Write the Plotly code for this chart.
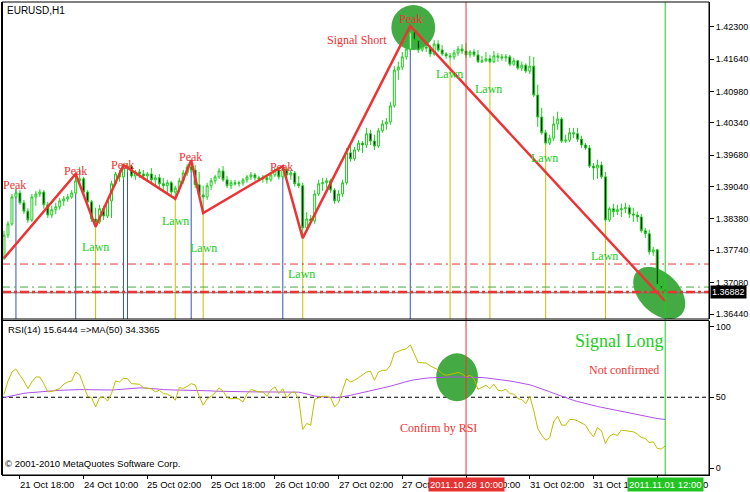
import numpy as np
import plotly.graph_objects as go

# ---------------- data (EURUSD H1, bar index 0 = 21 Oct 14:00) ----------------
bars = list(range(167))
opens = [1.3758, 1.3805, 1.3828, 1.3883, 1.3891, 1.3871, 1.3854, 1.3836, 1.3883, 1.3889,
         1.3893, 1.3867, 1.3846, 1.3857, 1.3863, 1.3875, 1.3879, 1.3883, 1.3891, 1.3916,
         1.3920, 1.3893, 1.3873, 1.3838, 1.3832, 1.3859, 1.3844, 1.3875, 1.3910, 1.3930,
         1.3924, 1.3942, 1.3946, 1.3926, 1.3934, 1.3930, 1.3926, 1.3930, 1.3918, 1.3922,
         1.3910, 1.3906, 1.3912, 1.3893, 1.3901, 1.3916, 1.3932, 1.3944, 1.3938, 1.3908,
         1.3887, 1.3883, 1.3906, 1.3916, 1.3924, 1.3936, 1.3918, 1.3906, 1.3912, 1.3910,
         1.3912, 1.3918, 1.3924, 1.3928, 1.3922, 1.3920, 1.3922, 1.3918, 1.3928, 1.3938,
         1.3924, 1.3940, 1.3928, 1.3932, 1.3910, 1.3906, 1.3820, 1.3838, 1.3834, 1.3889,
         1.3910, 1.3912, 1.3916, 1.3897, 1.3875, 1.3889, 1.3912, 1.3973, 1.3961, 1.3979,
         1.3993, 1.3989, 1.4012, 1.3997, 1.3987, 1.4018, 1.4032, 1.4036, 1.4069, 1.4142,
         1.4148, 1.4169, 1.4185, 1.4220, 1.4203, 1.4183, 1.4189, 1.4187, 1.4175, 1.4195,
         1.4183, 1.4175, 1.4171, 1.4169, 1.4177, 1.4185, 1.4181, 1.4173, 1.4179, 1.4173,
         1.4159, 1.4161, 1.4165, 1.4159, 1.4171, 1.4169, 1.4167, 1.4169, 1.4154, 1.4161,
         1.4146, 1.4152, 1.4140, 1.4150, 1.4091, 1.4046, 1.4014, 1.3993, 1.4003, 1.4032,
         1.4042, 1.3997, 1.3999, 1.4014, 1.4012, 1.4001, 1.3989, 1.3983, 1.3946, 1.3942,
         1.3948, 1.3924, 1.3836, 1.3859, 1.3853, 1.3857, 1.3859, 1.3861, 1.3848, 1.3846,
         1.3842, 1.3814, 1.3808, 1.3771, 1.3775, 1.3702, 1.3695]
highs = [1.3814, 1.3834, 1.3889, 1.3899, 1.3897, 1.3877, 1.3860, 1.3889, 1.3895, 1.3899,
         1.3897, 1.3873, 1.3865, 1.3871, 1.3881, 1.3885, 1.3889, 1.3897, 1.3930, 1.3944,
         1.3924, 1.3897, 1.3877, 1.3861, 1.3867, 1.3865, 1.3881, 1.3916, 1.3934, 1.3938,
         1.3948, 1.3952, 1.3948, 1.3938, 1.3940, 1.3938, 1.3934, 1.3942, 1.3928, 1.3930,
         1.3922, 1.3918, 1.3916, 1.3906, 1.3922, 1.3938, 1.3950, 1.3959, 1.3948, 1.3934,
         1.3906, 1.3912, 1.3922, 1.3928, 1.3942, 1.3946, 1.3926, 1.3918, 1.3918, 1.3916,
         1.3922, 1.3928, 1.3934, 1.3932, 1.3926, 1.3928, 1.3926, 1.3934, 1.3942, 1.3942,
         1.3946, 1.3944, 1.3938, 1.3936, 1.3926, 1.3912, 1.3852, 1.3846, 1.3897, 1.3918,
         1.3922, 1.3922, 1.3920, 1.3901, 1.3897, 1.3918, 1.3983, 1.3989, 1.3985, 1.3999,
         1.3997, 1.4024, 1.4020, 1.4010, 1.4024, 1.4040, 1.4044, 1.4077, 1.4150, 1.4159,
         1.4179, 1.4193, 1.4232, 1.4230, 1.4212, 1.4195, 1.4195, 1.4193, 1.4203, 1.4203,
         1.4193, 1.4179, 1.4177, 1.4183, 1.4191, 1.4195, 1.4197, 1.4183, 1.4185, 1.4183,
         1.4171, 1.4179, 1.4173, 1.4181, 1.4177, 1.4175, 1.4175, 1.4173, 1.4167, 1.4163,
         1.4159, 1.4156, 1.4171, 1.4169, 1.4112, 1.4065, 1.4020, 1.4010, 1.4048, 1.4057,
         1.4046, 1.4010, 1.4024, 1.4024, 1.4024, 1.4008, 1.3993, 1.3989, 1.3952, 1.3959,
         1.3955, 1.3934, 1.3863, 1.3869, 1.3867, 1.3869, 1.3871, 1.3867, 1.3861, 1.3853,
         1.3848, 1.3820, 1.3816, 1.3781, 1.3777, 1.3725, 1.3714]
lows = [1.3754, 1.3799, 1.3824, 1.3879, 1.3867, 1.3848, 1.3830, 1.3832, 1.3865, 1.3883,
        1.3859, 1.3840, 1.3840, 1.3848, 1.3857, 1.3865, 1.3873, 1.3879, 1.3887, 1.3906,
        1.3889, 1.3869, 1.3832, 1.3822, 1.3828, 1.3836, 1.3840, 1.3840, 1.3906, 1.3914,
        1.3918, 1.3934, 1.3922, 1.3918, 1.3922, 1.3918, 1.3914, 1.3910, 1.3906, 1.3901,
        1.3897, 1.3891, 1.3887, 1.3879, 1.3893, 1.3910, 1.3926, 1.3934, 1.3901, 1.3881,
        1.3850, 1.3877, 1.3897, 1.3910, 1.3920, 1.3914, 1.3901, 1.3899, 1.3906, 1.3904,
        1.3906, 1.3912, 1.3918, 1.3916, 1.3914, 1.3912, 1.3910, 1.3914, 1.3924, 1.3918,
        1.3920, 1.3922, 1.3918, 1.3904, 1.3901, 1.3799, 1.3812, 1.3830, 1.3828, 1.3885,
        1.3895, 1.3901, 1.3891, 1.3869, 1.3871, 1.3883, 1.3908, 1.3955, 1.3957, 1.3975,
        1.3973, 1.3983, 1.3989, 1.3979, 1.3983, 1.4014, 1.4020, 1.4030, 1.4065, 1.4122,
        1.4142, 1.4163, 1.4179, 1.4199, 1.4177, 1.4179, 1.4179, 1.4169, 1.4171, 1.4179,
        1.4171, 1.4165, 1.4161, 1.4163, 1.4171, 1.4175, 1.4167, 1.4167, 1.4169, 1.4156,
        1.4156, 1.4158, 1.4156, 1.4156, 1.4159, 1.4161, 1.4159, 1.4150, 1.4150, 1.4142,
        1.4140, 1.4136, 1.4134, 1.4087, 1.4026, 1.4010, 1.3989, 1.3989, 1.3997, 1.4020,
        1.3993, 1.3993, 1.3995, 1.4003, 1.3995, 1.3983, 1.3979, 1.3942, 1.3918, 1.3920,
        1.3920, 1.3832, 1.3832, 1.3842, 1.3846, 1.3842, 1.3850, 1.3840, 1.3832, 1.3832,
        1.3810, 1.3799, 1.3765, 1.3763, 1.3693, 1.3677, 1.3671]
closes = [1.3805, 1.3828, 1.3883, 1.3891, 1.3871, 1.3854, 1.3836, 1.3883, 1.3889, 1.3893,
          1.3867, 1.3846, 1.3857, 1.3863, 1.3875, 1.3879, 1.3883, 1.3891, 1.3916, 1.3920,
          1.3893, 1.3873, 1.3838, 1.3832, 1.3859, 1.3844, 1.3875, 1.3910, 1.3930, 1.3924,
          1.3942, 1.3946, 1.3926, 1.3934, 1.3930, 1.3926, 1.3930, 1.3918, 1.3922, 1.3910,
          1.3906, 1.3912, 1.3893, 1.3901, 1.3916, 1.3932, 1.3944, 1.3938, 1.3908, 1.3887,
          1.3883, 1.3906, 1.3916, 1.3924, 1.3936, 1.3918, 1.3906, 1.3912, 1.3910, 1.3912,
          1.3918, 1.3924, 1.3928, 1.3922, 1.3920, 1.3922, 1.3918, 1.3928, 1.3938, 1.3924,
          1.3940, 1.3928, 1.3932, 1.3910, 1.3906, 1.3820, 1.3838, 1.3834, 1.3889, 1.3910,
          1.3912, 1.3916, 1.3897, 1.3875, 1.3889, 1.3912, 1.3973, 1.3961, 1.3979, 1.3993,
          1.3989, 1.4012, 1.3997, 1.3987, 1.4018, 1.4032, 1.4036, 1.4069, 1.4142, 1.4148,
          1.4169, 1.4185, 1.4220, 1.4203, 1.4183, 1.4189, 1.4187, 1.4175, 1.4195, 1.4183,
          1.4175, 1.4171, 1.4169, 1.4177, 1.4185, 1.4181, 1.4173, 1.4179, 1.4173, 1.4159,
          1.4161, 1.4165, 1.4159, 1.4171, 1.4169, 1.4167, 1.4169, 1.4154, 1.4161, 1.4146,
          1.4152, 1.4140, 1.4150, 1.4091, 1.4046, 1.4014, 1.3993, 1.4003, 1.4032, 1.4042,
          1.3997, 1.3999, 1.4014, 1.4012, 1.4001, 1.3989, 1.3983, 1.3946, 1.3942, 1.3948,
          1.3924, 1.3836, 1.3859, 1.3853, 1.3857, 1.3859, 1.3861, 1.3848, 1.3846, 1.3842,
          1.3814, 1.3808, 1.3771, 1.3775, 1.3702, 1.3695, 1.36882]
rsi = [52, 61.5, 67.8, 70, 65.5, 61.5, 56.1, 60.8, 64.3, 64.3,
       59.6, 53.8, 54.2, 55, 56.1, 59.2, 60.8, 61.5, 67.8, 65.9,
       57.7, 50.7, 49.7, 43.2, 49.7, 50.2, 47.4, 52.6, 61.5, 60.8,
       63.4, 63.1, 59.6, 59.2, 59.2, 56.8, 56.1, 55.9, 53.8, 55,
       52.6, 52.2, 50.7, 47.9, 56.8, 56.3, 57.7, 59.6, 58.7, 50.7,
       44.4, 48.8, 50.7, 53.1, 56.6, 54.5, 49.8, 48.8, 49.3, 48.8,
       46.7, 52.2, 55.5, 54.5, 53.8, 53.8, 50.7, 55, 57.3, 52.6,
       56.1, 49.7, 53.1, 53.8, 48.4, 27.3, 31.5, 30.3, 48.4, 49.7,
       50.7, 50.7, 49.7, 43.2, 46, 55, 63.1, 60.8, 62, 63.8,
       65.5, 67.8, 68.3, 62, 67.8, 69, 69, 72.5, 81.2, 82.6,
       83.5, 84.2, 87, 80.7, 74.4, 74.4, 74.1, 72.2, 70.8, 69.4,
       66.6, 65.5, 66.1, 66.6, 67.5, 66.6, 64.3, 65.5, 63.1, 55.5,
       57.3, 58.5, 56.1, 59.2, 55, 54.5, 55.7, 52.6, 52.2, 49.1,
       48.4, 45.5, 50.7, 40.8, 27.9, 23.2, 19.7, 21.4, 32.6, 36.6,
       30.3, 30.3, 34.3, 34.3, 33.3, 31.9, 30.3, 25.6, 22.1, 28.6,
       26.3, 17.4, 22.5, 24, 23, 26.8, 26.3, 25.6, 25.6, 24,
       21.6, 21, 17.9, 18.6, 13.9, 13.4, 15.6]
rsi_ma = [49.8, 50.5, 51.2, 51.9, 52.5, 52.8, 53.1, 53.4, 53.6, 53.9,
          54.1, 54.3, 54.5, 54.7, 54.9, 55.1, 55.2, 55.3, 55.4, 55.4,
          55.4, 55.3, 55.2, 55.1, 55.0, 55.0, 55.0, 55.1, 55.3, 55.6,
          55.9, 56.2, 56.4, 56.5, 56.6, 56.6, 56.5, 56.3, 56.0, 55.7,
          55.4, 55.2, 55.0, 55.0, 55.0, 55.0, 55.0, 55.0, 55.0, 54.9,
          54.9, 54.7, 54.5, 54.3, 54.2, 54.1, 54.0, 53.9, 53.8, 53.8,
          53.8, 53.8, 53.8, 53.8, 53.8, 53.8, 53.8, 53.8, 53.8, 53.8,
          53.8, 53.8, 53.8, 53.8, 53.6, 53.0, 52.2, 51.4, 50.9, 50.5,
          50.2, 50.0, 49.8, 49.7, 49.8, 50.2, 50.8, 51.4, 52.0, 52.6,
          53.2, 53.8, 54.4, 55.0, 55.6, 56.3, 57.0, 57.8, 58.6, 59.5,
          60.4, 61.2, 61.8, 62.3, 62.8, 63.2, 63.5, 63.7, 63.9, 64.1,
          64.2, 64.3, 64.3, 64.3, 64.3, 64.3, 64.3, 64.3, 64.3, 64.1,
          63.9, 63.7, 63.4, 63.1, 62.7, 62.3, 61.9, 61.5, 61.0, 60.5,
          60.1, 59.6, 58.8, 57.9, 57.0, 56.0, 55.0, 53.9, 52.8, 51.7,
          50.6, 49.6, 48.7, 47.8, 47.0, 46.2, 45.5, 44.8, 44.1, 43.5,
          42.9, 42.3, 41.7, 41.1, 40.5, 40.0, 39.4, 38.9, 38.4, 37.9,
          37.3, 36.8, 36.2, 35.6, 35.0, 34.6, 34.3]

tick_bars = [4, 20, 36, 52, 68, 84, 100, 116, 132, 148, 164]
tick_labels = ["21 Oct 18:00", "24 Oct 10:00", "25 Oct 02:00", "25 Oct 18:00", "26 Oct 10:00",
               "27 Oct 02:00", "27 Oct 18:00", "28 Oct 10:00", "31 Oct 02:00", "31 Oct 18:00",
               "1 Nov 10:00"]
price_ticks = [1.42300, 1.41640, 1.40980, 1.40340, 1.39680, 1.39040, 1.38380, 1.37740, 1.37080, 1.36440]
rsi_ticks = [0, 50, 100]

zigzag_bars = [0, 18, 23, 30, 43, 47, 50, 70, 75, 102, 166]
zigzag_prices = [1.3758, 1.3930, 1.3822, 1.3948, 1.3879, 1.3958, 1.3850, 1.3946, 1.3799, 1.4232, 1.3670]
peak_bars = [3, 18, 30, 31, 47, 70, 102]
peak_prices = [1.3899, 1.3930, 1.3948, 1.3952, 1.3958, 1.3946, 1.4232]
lawn_bars = [23, 43, 50, 75, 112, 122, 136, 151]
lawn_prices = [1.3822, 1.3879, 1.3850, 1.3799, 1.4161, 1.4157, 1.3989, 1.3832]
peak_label_bars = [2.75, 18, 29.75, 46.75, 69.75, 102]
peak_label_prices = [1.3907, 1.3936, 1.3948, 1.3965, 1.3944, 1.4246]
lawn_label_bars = [23, 43, 50, 74.75, 111.75, 121.75, 135.75, 150.75]
lawn_label_prices = [1.3781, 1.3834, 1.3779, 1.3726, 1.4134, 1.4103, 1.3963, 1.3762]
level_red_upper = 1.3746
level_green = 1.3699
level_red_lower = 1.3689
bid_price = 1.36882
signal_short_bar = 116   # 2011.10.28 10:00
signal_long_bar = 166    # 2011.11.01 12:00

# ---------------- layout geometry ----------------
W, H = 750, 492
ML, MR, MT, MB = 2, 38, 2, 17
PLOT_W = W - ML - MR
PLOT_H = H - MT - MB
X_RANGE = [-0.5, 177.0]
PRICE_RANGE = [1.36338, 1.42810]
RSI_RANGE = [-4.9, 104.2]


def py(px):
    return (H - MB - px) / PLOT_H


def pxx(px):
    return (px - ML) / PLOT_W


MAIN_DOM = [py(319), 1.0]
RSI_DOM = [0.0, py(320.5)]

GREEN = "#22cc22"
RED = "#ec3434"
BLUE = "#3355bb"
YEL = "#c8c000"
ELL = "#44aa44"
SERIF = "Liberation Serif"
SANS = "Liberation Sans"

fig = go.Figure()
fig.add_trace(go.Candlestick(
    x=bars, open=opens, high=highs, low=lows, close=closes,
    increasing=dict(line=dict(color=GREEN, width=1), fillcolor="white"),
    decreasing=dict(line=dict(color=GREEN, width=1), fillcolor="black"),
    whiskerwidth=0, xaxis="x", yaxis="y", showlegend=False, hoverinfo="skip"))
fig.add_trace(go.Scatter(x=zigzag_bars, y=zigzag_prices, mode="lines",
                         line=dict(color=RED, width=2.5), xaxis="x", yaxis="y",
                         showlegend=False, hoverinfo="skip"))
fig.add_trace(go.Scatter(x=bars, y=rsi_ma, mode="lines", line=dict(color="#b050e8", width=1),
                         xaxis="x2", yaxis="y2", showlegend=False, hoverinfo="skip"))
fig.add_trace(go.Scatter(x=bars, y=rsi, mode="lines", line=dict(color="#bdbd00", width=1),
                         xaxis="x2", yaxis="y2", showlegend=False, hoverinfo="skip"))

# ---------------- shapes ----------------
px_per_bar = PLOT_W / (X_RANGE[1] - X_RANGE[0])
px_per_price = (319 - 2) / (PRICE_RANGE[1] - PRICE_RANGE[0])


def ellipse_path(cx, cy, a_px, b_px, ang_deg, n=72):
    th = np.radians(ang_deg)
    pts = []
    for k in range(n):
        t = 2 * np.pi * k / n
        dx = a_px * np.cos(t) * np.cos(th) - b_px * np.sin(t) * np.sin(th)
        dy = a_px * np.cos(t) * np.sin(th) + b_px * np.sin(t) * np.cos(th)
        pts.append((cx + dx / px_per_bar, cy - dy / px_per_price))
    return "M " + " L ".join(f"{x:.4f},{y:.6f}" for x, y in pts) + " Z"


shapes = []
# green ellipses (below everything)
shapes.append(dict(type="circle", xref="x", yref="y", x0=97.25, x1=108.25, y0=1.4183, y1=1.4275,
                   fillcolor=ELL, line=dict(width=0), layer="below"))
shapes.append(dict(type="path", xref="x", yref="y", path=ellipse_path(164.5, 1.36869, 31, 20, 45),
                   fillcolor=ELL, line=dict(width=0), layer="below"))
shapes.append(dict(type="line", xref="x2", yref="y2", x0=X_RANGE[0], x1=X_RANGE[1], y0=50, y1=50,
                   line=dict(color="black", width=1, dash="4px,3px"), layer="below"))
shapes.append(dict(type="circle", xref="x2", yref="y2", x0=108.5, x1=119, y0=47.2, y1=81.0,
                   fillcolor=ELL, line=dict(width=0), layer="below"))
# peak / lawn marker lines
for b, p in zip(peak_bars, peak_prices):
    shapes.append(dict(type="line", xref="x", yref="y", x0=b, x1=b, y0=p, y1=PRICE_RANGE[0],
                       line=dict(color=BLUE, width=1), layer="below"))
for b, p in zip(lawn_bars, lawn_prices):
    shapes.append(dict(type="line", xref="x", yref="y", x0=b, x1=b, y0=p, y1=PRICE_RANGE[0],
                       line=dict(color=YEL, width=1), layer="below"))
# horizontal levels
shapes.append(dict(type="line", xref="x", yref="y", x0=X_RANGE[0], x1=X_RANGE[1],
                   y0=level_red_upper, y1=level_red_upper,
                   line=dict(color=RED, width=1, dash="8px,4px,2px,4px"), layer="below"))
shapes.append(dict(type="line", xref="x", yref="y", x0=X_RANGE[0], x1=X_RANGE[1],
                   y0=level_green, y1=level_green,
                   line=dict(color="#44aa44", width=1, dash="8px,4px,2px,4px"), layer="below"))
shapes.append(dict(type="line", xref="x", yref="y", x0=X_RANGE[0], x1=X_RANGE[1],
                   y0=bid_price - 0.00008, y1=bid_price - 0.00008,
                   line=dict(color="#707070", width=1.2), layer="below"))
shapes.append(dict(type="line", xref="x", yref="y", x0=X_RANGE[0], x1=X_RANGE[1],
                   y0=level_red_lower, y1=level_red_lower,
                   line=dict(color=RED, width=2.5, dash="9px,3px,3px,3px"), layer="below"))
# signal vertical lines across both panels
shapes.append(dict(type="line", xref="x", yref="paper", x0=signal_short_bar, x1=signal_short_bar,
                   y0=0, y1=1, line=dict(color=RED, width=1), layer="above"))
shapes.append(dict(type="line", xref="x", yref="paper", x0=signal_long_bar, x1=signal_long_bar,
                   y0=0, y1=1, line=dict(color=GREEN, width=1), layer="above"))
# panel frames
shapes.append(dict(type="rect", xref="paper", yref="paper", x0=0, x1=1, y0=MAIN_DOM[0], y1=1,
                   line=dict(color="black", width=1), layer="above"))
shapes.append(dict(type="rect", xref="paper", yref="paper", x0=0, x1=1, y0=RSI_DOM[0], y1=RSI_DOM[1],
                   line=dict(color="black", width=1), layer="above"))
shapes.append(dict(type="line", xref="paper", yref="paper", x0=0, x1=0, y0=0, y1=1,
                   line=dict(color="black", width=2), layer="above"))

# ---------------- annotations ----------------
ann = []
for b, p in zip(peak_label_bars, peak_label_prices):
    ann.append(dict(x=b, y=p, xref="x", yref="y", text="Peak", showarrow=False,
                    font=dict(family=SERIF, size=12, color=RED), xanchor="center", yanchor="middle"))
for b, p in zip(lawn_label_bars, lawn_label_prices):
    ann.append(dict(x=b, y=p, xref="x", yref="y", text="Lawn", showarrow=False,
                    font=dict(family=SERIF, size=12, color=GREEN), xanchor="center", yanchor="middle"))
ann.append(dict(x=88.75, y=1.4203, xref="x", yref="y", text="Signal Short", showarrow=False,
                font=dict(family=SERIF, size=12, color=RED), xanchor="center", yanchor="middle"))
ann.append(dict(x=154.5, y=90.0, xref="x2", yref="y2", text="Signal Long", showarrow=False,
                font=dict(family=SERIF, size=18, color=GREEN), xanchor="center", yanchor="middle"))
ann.append(dict(x=155.75, y=69.0, xref="x2", yref="y2", text="Not confirmed", showarrow=False,
                font=dict(family=SERIF, size=12, color=RED), xanchor="center", yanchor="middle"))
ann.append(dict(x=109, y=28.2, xref="x2", yref="y2", text="Confirm by RSI", showarrow=False,
                font=dict(family=SERIF, size=12, color=RED), xanchor="center", yanchor="middle"))
ann.append(dict(x=pxx(5), y=py(11), xref="paper", yref="paper", text="EURUSD,H1", showarrow=False,
                font=dict(family=SANS, size=10, color="black"), xanchor="left", yanchor="middle"))
ann.append(dict(x=pxx(6), y=py(329), xref="paper", yref="paper",
                text="RSI(14) 15.6444 =>MA(50) 34.3365", showarrow=False,
                font=dict(family=SANS, size=9.5, color="black"), xanchor="left", yanchor="middle"))
ann.append(dict(x=pxx(3), y=py(463), xref="paper", yref="paper",
                text="© 2001-2010 MetaQuotes Software Corp.", showarrow=False,
                font=dict(family=SANS, size=9.5, color="black"), xanchor="left", yanchor="middle"))
for b, lab in zip(tick_bars, tick_labels):
    ann.append(dict(x=b, y=py(484), xref="x2", yref="paper", text=lab, showarrow=False,
                    font=dict(family=SANS, size=9.5, color="black"), xanchor="left", yanchor="middle",
                    xshift=-2))
ann.append(dict(x=signal_short_bar, y=py(484), xref="x2", yref="paper", text="2011.10.28 10:00",
                showarrow=False, bgcolor="#e53333", borderpad=1,
                font=dict(family=SANS, size=9.5, color="white"), xanchor="center", yanchor="middle"))
ann.append(dict(x=signal_long_bar, y=py(484), xref="x2", yref="paper", text="2011.11.01 12:00",
                showarrow=False, bgcolor="#22c422", borderpad=1,
                font=dict(family=SANS, size=9.5, color="white"), xanchor="center", yanchor="middle"))
ann.append(dict(x=pxx(713), y=bid_price, xref="paper", yref="y", text=f"{bid_price:.5f}",
                showarrow=False, bgcolor="black", borderpad=1,
                font=dict(family=SANS, size=9, color="white"), xanchor="left", yanchor="middle"))

axis_font = dict(family=SANS, size=9, color="black")
fig.update_layout(
    width=W, height=H,
    margin=dict(l=ML, r=MR, t=MT, b=MB, pad=0),
    paper_bgcolor="white", plot_bgcolor="white",
    showlegend=False,
    xaxis=dict(domain=[0, 1], range=X_RANGE, anchor="y", showticklabels=False, ticks="",
               showgrid=False, zeroline=False, rangeslider=dict(visible=False), showline=False),
    yaxis=dict(domain=MAIN_DOM, range=PRICE_RANGE, side="right", anchor="x",
               tickvals=price_ticks, ticktext=[f"{v:.5f}" for v in price_ticks],
               ticks="outside", ticklen=4, tickcolor="black", showline=True, linecolor="black",
               linewidth=1, showgrid=False, zeroline=False, tickfont=axis_font),
    xaxis2=dict(domain=[0, 1], range=X_RANGE, anchor="y2", tickvals=tick_bars, ticks="outside",
                ticklen=3, tickcolor="black", showticklabels=False, showgrid=False, zeroline=False,
                showline=True, linecolor="black"),
    yaxis2=dict(domain=RSI_DOM, range=RSI_RANGE, side="right", anchor="x2", tickvals=rsi_ticks,
                ticks="outside", ticklen=4, tickcolor="black", showline=True, linecolor="black",
                linewidth=1, showgrid=False, zeroline=False, tickfont=axis_font),
    shapes=shapes,
    annotations=ann,
)

fig.write_html("out.html",
               config={"displayModeBar": False},
               post_script="document.body.style.margin='0';document.body.style.padding='0';"
                           "document.body.style.overflow='hidden';")
